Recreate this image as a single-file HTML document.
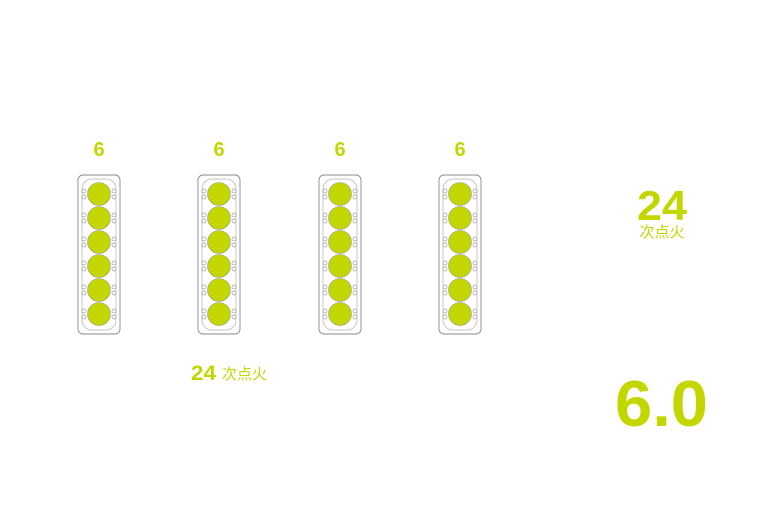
<!DOCTYPE html>
<html><head><meta charset="utf-8"><style>
html,body{margin:0;padding:0;background:#fff;}
svg{display:block;}
text{font-family:"Liberation Sans","Noto Sans CJK SC",sans-serif;fill:#c4d600;}
</style></head><body>
<svg width="770" height="510" viewBox="0 0 770 510" xmlns="http://www.w3.org/2000/svg">
<defs>
<g id="m">
  <rect x="-21" y="0" width="42" height="159" rx="5" fill="none" stroke="#8a8a8a" stroke-width="0.9"/>
  <rect x="-17" y="4" width="34" height="151" rx="10" fill="none" stroke="#b0b0b0" stroke-width="0.7"/>
  <g fill="none" stroke="#9a9a9a" stroke-width="0.7">
    <circle cx="-15" cy="16" r="2"/><circle cx="-15" cy="22" r="2"/><circle cx="15" cy="16" r="2"/><circle cx="15" cy="22" r="2"/>
    <circle cx="-15" cy="40" r="2"/><circle cx="-15" cy="46" r="2"/><circle cx="15" cy="40" r="2"/><circle cx="15" cy="46" r="2"/>
    <circle cx="-15" cy="64" r="2"/><circle cx="-15" cy="70" r="2"/><circle cx="15" cy="64" r="2"/><circle cx="15" cy="70" r="2"/>
    <circle cx="-15" cy="88" r="2"/><circle cx="-15" cy="94" r="2"/><circle cx="15" cy="88" r="2"/><circle cx="15" cy="94" r="2"/>
    <circle cx="-15" cy="112" r="2"/><circle cx="-15" cy="118" r="2"/><circle cx="15" cy="112" r="2"/><circle cx="15" cy="118" r="2"/>
    <circle cx="-15" cy="136" r="2"/><circle cx="-15" cy="142" r="2"/><circle cx="15" cy="136" r="2"/><circle cx="15" cy="142" r="2"/>
  </g>
  <g fill="#c4d600" stroke="#9a9a9a" stroke-width="0.6">
    <circle cx="0" cy="19" r="11.5"/><circle cx="0" cy="43" r="11.5"/><circle cx="0" cy="67" r="11.5"/>
    <circle cx="0" cy="91" r="11.5"/><circle cx="0" cy="115" r="11.5"/><circle cx="0" cy="139" r="11.5"/>
  </g>
</g>
</defs>
<use href="#m" x="99" y="175"/>
<use href="#m" x="219" y="175"/>
<use href="#m" x="340" y="175"/>
<use href="#m" x="460" y="175"/>
<g font-weight="bold" font-size="20" text-anchor="middle">
<text x="99" y="156">6</text><text x="219" y="156">6</text><text x="340" y="156">6</text><text x="460" y="156">6</text>
</g>
<text x="637" y="220" font-size="42" font-weight="bold" textLength="50" lengthAdjust="spacingAndGlyphs">24</text>
<text x="662" y="237" font-size="15" text-anchor="middle">次点火</text>
<text x="191" y="380" font-size="21" font-weight="bold" textLength="25" lengthAdjust="spacingAndGlyphs">24</text>
<text x="222" y="379" font-size="15">次点火</text>
<text x="615" y="426" font-size="65" font-weight="bold" textLength="93" lengthAdjust="spacingAndGlyphs">6.0</text>
</svg>
</body></html>
